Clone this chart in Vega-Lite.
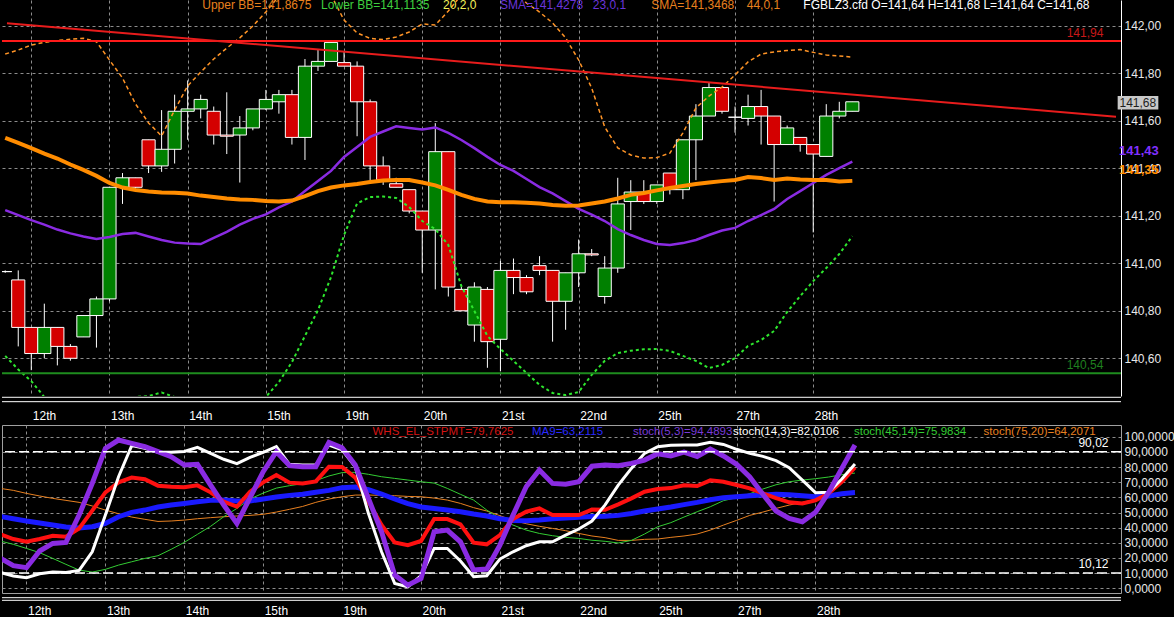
{
  "$schema": "https://vega.github.io/schema/vega-lite/v6.json",
  "background": "#000000",
  "padding": 0,
  "spacing": 29,
  "bounds": "flush",
  "resolve": {"scale": {"color": "independent"}},
  "datasets": {
    "bars": [
      {"k": -2, "o": 140.965, "h": 140.97, "l": 140.96, "c": 140.965, "ub": 141.881, "lb": 140.610, "s23": 141.224, "s44": 141.528, "whs": 35.6, "ma9": 47.4, "s53": 20.0, "s143": 10.5, "s4514": 31.2, "s7520": 65.9},
      {"k": -1, "o": 140.93, "h": 140.97, "l": 140.65, "c": 140.73, "ub": 141.898, "lb": 140.553, "s23": 141.203, "s44": 141.507, "whs": 32.5, "ma9": 45.9, "s53": 14.9, "s143": 8.1, "s4514": 29.0, "s7520": 64.6},
      {"k": 0, "o": 140.73, "h": 140.73, "l": 140.55, "c": 140.62, "ub": 141.919, "lb": 140.504, "s23": 141.182, "s44": 141.485, "whs": 30.7, "ma9": 44.4, "s53": 13.6, "s143": 7.0, "s4514": 26.3, "s7520": 62.6},
      {"k": 1, "o": 140.62, "h": 140.83, "l": 140.60, "c": 140.73, "ub": 141.930, "lb": 140.437, "s23": 141.163, "s44": 141.462, "whs": 32.5, "ma9": 43.1, "s53": 24.6, "s143": 9.6, "s4514": 23.5, "s7520": 60.9},
      {"k": 2, "o": 140.73, "h": 140.73, "l": 140.57, "c": 140.65, "ub": 141.938, "lb": 140.403, "s23": 141.142, "s44": 141.441, "whs": 34.7, "ma9": 41.7, "s53": 29.6, "s143": 10.7, "s4514": 19.7, "s7520": 59.3},
      {"k": 3, "o": 140.65, "h": 140.66, "l": 140.59, "c": 140.60, "ub": 141.943, "lb": 140.382, "s23": 141.126, "s44": 141.416, "whs": 34.0, "ma9": 40.4, "s53": 30.3, "s143": 10.5, "s4514": 15.8, "s7520": 58.0},
      {"k": 4, "o": 140.69, "h": 140.78, "l": 140.69, "c": 140.78, "ub": 141.947, "lb": 140.374, "s23": 141.113, "s44": 141.393, "whs": 39.5, "ma9": 39.8, "s53": 48.3, "s143": 11.8, "s4514": 12.0, "s7520": 56.7},
      {"k": 5, "o": 140.78, "h": 140.86, "l": 140.645, "c": 140.85, "ub": 141.933, "lb": 140.391, "s23": 141.102, "s44": 141.368, "whs": 51.2, "ma9": 40.6, "s53": 69.2, "s143": 24.1, "s4514": 10.7, "s7520": 54.3},
      {"k": 6, "o": 140.85, "h": 141.32, "l": 140.84, "c": 141.32, "ub": 141.856, "lb": 140.403, "s23": 141.111, "s44": 141.338, "whs": 63.3, "ma9": 42.8, "s53": 92.3, "s143": 48.3, "s4514": 12.5, "s7520": 51.6},
      {"k": 7, "o": 141.32, "h": 141.38, "l": 141.25, "c": 141.36, "ub": 141.780, "lb": 140.424, "s23": 141.123, "s44": 141.319, "whs": 69.9, "ma9": 47.2, "s53": 97.8, "s143": 73.6, "s4514": 15.3, "s7520": 49.2},
      {"k": 8, "o": 141.36, "h": 141.36, "l": 141.30, "c": 141.32, "ub": 141.671, "lb": 140.437, "s23": 141.128, "s44": 141.309, "whs": 73.0, "ma9": 50.1, "s53": 95.6, "s143": 94.1, "s4514": 17.5, "s7520": 47.0},
      {"k": 9, "o": 141.52, "h": 141.52, "l": 141.38, "c": 141.41, "ub": 141.591, "lb": 140.441, "s23": 141.113, "s44": 141.302, "whs": 71.9, "ma9": 51.6, "s53": 93.4, "s143": 92.3, "s4514": 19.7, "s7520": 45.5},
      {"k": 10, "o": 141.41, "h": 141.645, "l": 141.385, "c": 141.48, "ub": 141.536, "lb": 140.456, "s23": 141.098, "s44": 141.298, "whs": 67.7, "ma9": 53.6, "s53": 90.1, "s143": 89.7, "s4514": 21.5, "s7520": 44.1},
      {"k": 11, "o": 141.48, "h": 141.71, "l": 141.42, "c": 141.64, "ub": 141.645, "lb": 140.437, "s23": 141.087, "s44": 141.297, "whs": 67.0, "ma9": 54.9, "s53": 86.8, "s143": 89.7, "s4514": 25.7, "s7520": 44.4},
      {"k": 12, "o": 141.64, "h": 141.77, "l": 141.52, "c": 141.65, "ub": 141.747, "lb": 140.416, "s23": 141.083, "s44": 141.294, "whs": 66.6, "ma9": 56.0, "s53": 81.3, "s143": 90.3, "s4514": 30.3, "s7520": 45.0},
      {"k": 13, "o": 141.65, "h": 141.71, "l": 141.61, "c": 141.69, "ub": 141.805, "lb": 140.391, "s23": 141.081, "s44": 141.285, "whs": 67.9, "ma9": 57.1, "s53": 81.8, "s143": 93.0, "s4514": 35.6, "s7520": 45.9},
      {"k": 14, "o": 141.64, "h": 141.66, "l": 141.50, "c": 141.54, "ub": 141.860, "lb": 140.374, "s23": 141.107, "s44": 141.279, "whs": 63.3, "ma9": 58.0, "s53": 68.1, "s143": 89.0, "s4514": 40.9, "s7520": 46.6},
      {"k": 15, "o": 141.54, "h": 141.72, "l": 141.46, "c": 141.535, "ub": 141.906, "lb": 140.365, "s23": 141.132, "s44": 141.273, "whs": 57.1, "ma9": 58.2, "s53": 54.9, "s143": 85.1, "s4514": 47.2, "s7520": 47.2},
      {"k": 16, "o": 141.54, "h": 141.62, "l": 141.34, "c": 141.57, "ub": 141.949, "lb": 140.382, "s23": 141.163, "s44": 141.269, "whs": 53.8, "ma9": 57.6, "s53": 42.8, "s143": 82.2, "s4514": 52.7, "s7520": 47.7},
      {"k": 17, "o": 141.57, "h": 141.65, "l": 141.56, "c": 141.65, "ub": 141.999, "lb": 140.412, "s23": 141.187, "s44": 141.267, "whs": 63.7, "ma9": 57.6, "s53": 59.8, "s143": 86.4, "s4514": 58.9, "s7520": 48.1},
      {"k": 18, "o": 141.65, "h": 141.73, "l": 141.645, "c": 141.69, "ub": 142.058, "lb": 140.437, "s23": 141.206, "s44": 141.262, "whs": 69.9, "ma9": 58.9, "s53": 76.9, "s143": 89.7, "s4514": 62.8, "s7520": 48.8},
      {"k": 19, "o": 141.68, "h": 141.73, "l": 141.63, "c": 141.71, "ub": 142.125, "lb": 140.500, "s23": 141.235, "s44": 141.260, "whs": 74.7, "ma9": 60.2, "s53": 90.1, "s143": 93.4, "s4514": 66.1, "s7520": 50.3},
      {"k": 20, "o": 141.71, "h": 141.73, "l": 141.50, "c": 141.53, "ub": 142.184, "lb": 140.584, "s23": 141.260, "s44": 141.264, "whs": 69.7, "ma9": 61.3, "s53": 80.9, "s143": 81.8, "s4514": 67.7, "s7520": 52.1},
      {"k": 21, "o": 141.53, "h": 141.86, "l": 141.435, "c": 141.83, "ub": 142.214, "lb": 140.694, "s23": 141.304, "s44": 141.283, "whs": 69.2, "ma9": 62.0, "s53": 80.2, "s143": 81.3, "s4514": 69.0, "s7520": 54.0},
      {"k": 22, "o": 141.83, "h": 141.90, "l": 141.81, "c": 141.85, "ub": 142.201, "lb": 140.803, "s23": 141.346, "s44": 141.304, "whs": 70.5, "ma9": 63.3, "s53": 80.2, "s143": 81.3, "s4514": 71.0, "s7520": 56.7},
      {"k": 23, "o": 141.85, "h": 141.93, "l": 141.85, "c": 141.93, "ub": 142.130, "lb": 140.942, "s23": 141.389, "s44": 141.319, "whs": 80.2, "ma9": 64.6, "s53": 96.3, "s143": 94.5, "s4514": 74.1, "s7520": 58.9},
      {"k": 24, "o": 141.845, "h": 141.89, "l": 141.83, "c": 141.83, "ub": 142.024, "lb": 141.119, "s23": 141.448, "s44": 141.328, "whs": 80.0, "ma9": 66.4, "s53": 92.7, "s143": 91.4, "s4514": 76.3, "s7520": 60.4},
      {"k": 25, "o": 141.83, "h": 141.85, "l": 141.535, "c": 141.68, "ub": 141.970, "lb": 141.252, "s23": 141.490, "s44": 141.334, "whs": 73.0, "ma9": 66.8, "s53": 81.3, "s143": 80.2, "s4514": 76.5, "s7520": 61.5},
      {"k": 26, "o": 141.68, "h": 141.69, "l": 141.35, "c": 141.41, "ub": 141.947, "lb": 141.279, "s23": 141.532, "s44": 141.342, "whs": 57.1, "ma9": 65.0, "s53": 59.3, "s143": 49.4, "s4514": 75.2, "s7520": 61.5},
      {"k": 27, "o": 141.41, "h": 141.45, "l": 141.33, "c": 141.35, "ub": 141.942, "lb": 141.281, "s23": 141.555, "s44": 141.349, "whs": 41.7, "ma9": 62.2, "s53": 37.3, "s143": 24.1, "s4514": 73.6, "s7520": 61.3},
      {"k": 28, "o": 141.335, "h": 141.36, "l": 141.32, "c": 141.32, "ub": 141.953, "lb": 141.275, "s23": 141.577, "s44": 141.351, "whs": 30.3, "ma9": 58.9, "s53": 8.7, "s143": 3.2, "s4514": 72.5, "s7520": 61.1},
      {"k": 29, "o": 141.31, "h": 141.31, "l": 141.21, "c": 141.22, "ub": 141.974, "lb": 141.237, "s23": 141.570, "s44": 141.351, "whs": 28.5, "ma9": 55.8, "s53": 2.1, "s143": 1.0, "s4514": 71.4, "s7520": 60.6},
      {"k": 30, "o": 141.22, "h": 141.22, "l": 140.96, "c": 141.14, "ub": 142.008, "lb": 141.178, "s23": 141.563, "s44": 141.340, "whs": 31.2, "ma9": 53.6, "s53": 6.5, "s143": 8.3, "s4514": 70.3, "s7520": 60.4},
      {"k": 31, "o": 141.14, "h": 141.59, "l": 140.89, "c": 141.47, "ub": 142.003, "lb": 141.144, "s23": 141.572, "s44": 141.328, "whs": 45.7, "ma9": 52.7, "s53": 37.3, "s143": 26.3, "s4514": 69.4, "s7520": 59.5},
      {"k": 32, "o": 141.47, "h": 141.47, "l": 140.86, "c": 140.90, "ub": 142.062, "lb": 141.077, "s23": 141.549, "s44": 141.309, "whs": 45.7, "ma9": 51.6, "s53": 38.4, "s143": 26.3, "s4514": 65.9, "s7520": 58.2},
      {"k": 33, "o": 140.89, "h": 140.90, "l": 140.80, "c": 140.80, "ub": 142.130, "lb": 140.904, "s23": 141.519, "s44": 141.288, "whs": 42.2, "ma9": 50.5, "s53": 30.7, "s143": 18.0, "s4514": 62.0, "s7520": 56.0},
      {"k": 34, "o": 140.74, "h": 140.92, "l": 140.67, "c": 140.90, "ub": 142.172, "lb": 140.799, "s23": 141.485, "s44": 141.271, "whs": 30.1, "ma9": 49.0, "s53": 12.0, "s143": 7.6, "s4514": 58.2, "s7520": 53.2},
      {"k": 35, "o": 140.89, "h": 140.90, "l": 140.56, "c": 140.67, "ub": 142.193, "lb": 140.694, "s23": 141.448, "s44": 141.260, "whs": 29.0, "ma9": 47.7, "s53": 12.7, "s143": 8.3, "s4514": 51.6, "s7520": 51.0},
      {"k": 36, "o": 140.68, "h": 141.01, "l": 140.545, "c": 140.97, "ub": 142.184, "lb": 140.639, "s23": 141.414, "s44": 141.257, "whs": 35.1, "ma9": 45.9, "s53": 28.5, "s143": 19.3, "s4514": 46.1, "s7520": 47.9},
      {"k": 37, "o": 140.97, "h": 141.02, "l": 140.87, "c": 140.94, "ub": 142.142, "lb": 140.589, "s23": 141.389, "s44": 141.257, "whs": 45.7, "ma9": 44.8, "s53": 48.3, "s143": 24.1, "s4514": 41.7, "s7520": 44.8},
      {"k": 38, "o": 140.94, "h": 140.95, "l": 140.87, "c": 140.88, "ub": 142.096, "lb": 140.538, "s23": 141.355, "s44": 141.255, "whs": 50.5, "ma9": 44.6, "s53": 67.0, "s143": 28.1, "s4514": 38.4, "s7520": 42.6},
      {"k": 39, "o": 140.99, "h": 141.03, "l": 140.95, "c": 140.97, "ub": 142.058, "lb": 140.488, "s23": 141.321, "s44": 141.252, "whs": 52.7, "ma9": 45.0, "s53": 78.0, "s143": 30.7, "s4514": 36.2, "s7520": 40.9},
      {"k": 40, "o": 140.97, "h": 140.97, "l": 140.67, "c": 140.84, "ub": 142.012, "lb": 140.454, "s23": 141.294, "s44": 141.245, "whs": 48.3, "ma9": 45.9, "s53": 69.2, "s143": 30.7, "s4514": 34.7, "s7520": 39.5},
      {"k": 41, "o": 140.84, "h": 140.96, "l": 140.72, "c": 140.96, "ub": 141.949, "lb": 140.445, "s23": 141.262, "s44": 141.242, "whs": 48.3, "ma9": 46.4, "s53": 68.6, "s143": 35.1, "s4514": 33.6, "s7520": 38.0},
      {"k": 42, "o": 140.96, "h": 141.10, "l": 140.90, "c": 141.04, "ub": 141.856, "lb": 140.458, "s23": 141.229, "s44": 141.243, "whs": 48.3, "ma9": 46.8, "s53": 70.3, "s143": 39.1, "s4514": 32.9, "s7520": 36.2},
      {"k": 43, "o": 141.04, "h": 141.06, "l": 141.03, "c": 141.035, "ub": 141.738, "lb": 140.530, "s23": 141.205, "s44": 141.252, "whs": 51.9, "ma9": 47.3, "s53": 80.5, "s143": 44.4, "s4514": 31.7, "s7520": 34.5},
      {"k": 44, "o": 140.86, "h": 141.03, "l": 140.83, "c": 140.98, "ub": 141.574, "lb": 140.589, "s23": 141.178, "s44": 141.260, "whs": 51.8, "ma9": 47.5, "s53": 81.3, "s143": 55.0, "s4514": 31.0, "s7520": 33.4},
      {"k": 45, "o": 140.98, "h": 141.36, "l": 140.96, "c": 141.25, "ub": 141.486, "lb": 140.622, "s23": 141.144, "s44": 141.273, "whs": 55.4, "ma9": 48.1, "s53": 80.9, "s143": 68.1, "s4514": 29.9, "s7520": 31.6},
      {"k": 46, "o": 141.26, "h": 141.35, "l": 141.14, "c": 141.30, "ub": 141.456, "lb": 140.632, "s23": 141.119, "s44": 141.288, "whs": 59.3, "ma9": 49.4, "s53": 82.4, "s143": 79.1, "s4514": 31.6, "s7520": 31.6},
      {"k": 47, "o": 141.30, "h": 141.35, "l": 141.25, "c": 141.26, "ub": 141.443, "lb": 140.638, "s23": 141.098, "s44": 141.296, "whs": 63.7, "ma9": 51.0, "s53": 84.6, "s143": 89.0, "s4514": 35.8, "s7520": 32.3},
      {"k": 48, "o": 141.26, "h": 141.33, "l": 141.25, "c": 141.33, "ub": 141.445, "lb": 140.639, "s23": 141.081, "s44": 141.307, "whs": 65.5, "ma9": 52.3, "s53": 88.8, "s143": 93.4, "s4514": 40.6, "s7520": 32.5},
      {"k": 49, "o": 141.38, "h": 141.38, "l": 141.29, "c": 141.31, "ub": 141.464, "lb": 140.631, "s23": 141.077, "s44": 141.317, "whs": 66.1, "ma9": 53.6, "s53": 87.3, "s143": 94.3, "s4514": 43.3, "s7520": 33.6},
      {"k": 50, "o": 141.31, "h": 141.52, "l": 141.27, "c": 141.52, "ub": 141.549, "lb": 140.610, "s23": 141.085, "s44": 141.325, "whs": 67.9, "ma9": 55.2, "s53": 89.9, "s143": 94.5, "s4514": 47.0, "s7520": 34.5},
      {"k": 51, "o": 141.52, "h": 141.67, "l": 141.35, "c": 141.62, "ub": 141.654, "lb": 140.589, "s23": 141.098, "s44": 141.334, "whs": 67.5, "ma9": 56.7, "s53": 87.0, "s143": 94.5, "s4514": 50.5, "s7520": 35.8},
      {"k": 52, "o": 141.62, "h": 141.76, "l": 141.62, "c": 141.74, "ub": 141.704, "lb": 140.559, "s23": 141.119, "s44": 141.340, "whs": 71.2, "ma9": 58.4, "s53": 91.9, "s143": 96.3, "s4514": 53.8, "s7520": 38.4},
      {"k": 53, "o": 141.74, "h": 141.74, "l": 141.63, "c": 141.64, "ub": 141.742, "lb": 140.572, "s23": 141.138, "s44": 141.346, "whs": 70.3, "ma9": 59.8, "s53": 87.3, "s143": 94.9, "s4514": 57.8, "s7520": 41.7},
      {"k": 54, "o": 141.615, "h": 141.66, "l": 141.55, "c": 141.615, "ub": 141.793, "lb": 140.601, "s23": 141.149, "s44": 141.351, "whs": 68.1, "ma9": 60.4, "s53": 81.8, "s143": 91.7, "s4514": 59.8, "s7520": 44.8},
      {"k": 55, "o": 141.61, "h": 141.71, "l": 141.58, "c": 141.66, "ub": 141.848, "lb": 140.652, "s23": 141.178, "s44": 141.363, "whs": 65.9, "ma9": 61.1, "s53": 73.4, "s143": 89.0, "s4514": 62.4, "s7520": 48.1},
      {"k": 56, "o": 141.66, "h": 141.73, "l": 141.50, "c": 141.62, "ub": 141.881, "lb": 140.677, "s23": 141.203, "s44": 141.359, "whs": 62.6, "ma9": 61.5, "s53": 62.0, "s143": 87.0, "s4514": 65.5, "s7520": 50.3},
      {"k": 57, "o": 141.62, "h": 141.62, "l": 141.26, "c": 141.50, "ub": 141.890, "lb": 140.715, "s23": 141.229, "s44": 141.351, "whs": 59.5, "ma9": 62.0, "s53": 51.0, "s143": 84.2, "s4514": 68.3, "s7520": 52.7},
      {"k": 58, "o": 141.50, "h": 141.58, "l": 141.50, "c": 141.57, "ub": 141.896, "lb": 140.795, "s23": 141.271, "s44": 141.357, "whs": 56.7, "ma9": 61.7, "s53": 46.1, "s143": 79.6, "s4514": 70.3, "s7520": 54.9},
      {"k": 59, "o": 141.53, "h": 141.53, "l": 141.47, "c": 141.50, "ub": 141.900, "lb": 140.862, "s23": 141.304, "s44": 141.353, "whs": 56.0, "ma9": 61.1, "s53": 43.9, "s143": 71.4, "s4514": 71.4, "s7520": 56.7},
      {"k": 60, "o": 141.50, "h": 141.50, "l": 141.13, "c": 141.46, "ub": 141.888, "lb": 140.925, "s23": 141.338, "s44": 141.351, "whs": 58.0, "ma9": 60.4, "s53": 50.1, "s143": 63.1, "s4514": 72.3, "s7520": 58.7},
      {"k": 61, "o": 141.45, "h": 141.67, "l": 141.45, "c": 141.62, "ub": 141.877, "lb": 140.980, "s23": 141.372, "s44": 141.351, "whs": 62.6, "ma9": 60.9, "s53": 63.3, "s143": 63.3, "s4514": 73.4, "s7520": 60.6},
      {"k": 62, "o": 141.62, "h": 141.68, "l": 141.61, "c": 141.64, "ub": 141.873, "lb": 141.039, "s23": 141.401, "s44": 141.344, "whs": 70.3, "ma9": 62.4, "s53": 79.1, "s143": 72.1, "s4514": 74.9, "s7520": 62.0},
      {"k": 63, "o": 141.64, "h": 141.68, "l": 141.64, "c": 141.68, "ub": 141.868, "lb": 141.114, "s23": 141.428, "s44": 141.347, "whs": 79.8, "ma9": 63.2, "s53": 94.5, "s143": 82.0, "s4514": 76.0, "s7520": 64.2}
    ],
    "trend": [
      {"k": -1.8631, "price": 142.0105},
      {"k": 83.232, "price": 141.617}
    ],
    "levels": [
      {"key": "res", "price": 141.936, "label": "141,94"},
      {"key": "sup", "price": 140.537, "label": "140,54"}
    ],
    "header": [
      {"at": 13.12, "key": "ubb", "text": "Upper BB=141,8675"},
      {"at": 22.24, "key": "lbb", "text": "Lower BB=141,1135"},
      {"at": 31.6, "key": "par", "text": "20,2,0"},
      {"at": 35.97, "key": "sma23", "text": "SMA=141,4278"},
      {"at": 43.08, "key": "sma23", "text": "23,0,1"},
      {"at": 47.57, "key": "sma44", "text": "SMA=141,3468"},
      {"at": 54.9, "key": "sma44", "text": "44,0,1"},
      {"at": 59.24, "key": "sym", "text": "FGBLZ3.cfd O=141,64 H=141,68 L=141,64 C=141,68"}
    ],
    "badges": [
      {"key": "last", "price": 141.68, "label": "141,68"},
      {"key": "b23", "price": 141.43, "label": "141,43"},
      {"key": "b44", "price": 141.35, "label": "141,35"}
    ],
    "legend": [
      {"at": 26.31, "key": "whs", "text": "WHS_EL_STPMT=79,7625"},
      {"at": 38.44, "key": "ma9", "text": "MA9=63,2115"},
      {"at": 46.12, "key": "s53", "text": "stoch(5,3)=94,4893"},
      {"at": 53.73, "key": "s143", "text": "stoch(14,3)=82,0106"},
      {"at": 62.93, "key": "s4514", "text": "stoch(45,14)=75,9834"},
      {"at": 72.78, "key": "s7520", "text": "stoch(75,20)=64,2071"}
    ],
    "bands": [
      {"key": "band", "v": 90.02, "label": "90,02"},
      {"key": "band", "v": 10.12, "label": "10,12"}
    ]
  },
  "vconcat": [
    {
      "width": 1119,
      "height": 396,
      "view": {"stroke": null},
      "layer": [
        {
          "data": {"name": "bars"},
          "mark": {"type": "rule", "color": "#ffffff", "strokeWidth": 1, "clip": true},
          "encoding": {
            "x": {
              "field": "k",
              "type": "quantitative",
              "scale": {"domain": [-1.8631, 83.232], "nice": false, "zero": false},
              "axis": {
                "title": null,
                "values": [0, 6, 12, 18, 24, 30, 36, 42, 48, 54, 60],
                "tickCount": 11,
                "labelExpr": "['12th','13th','14th','15th','19th','20th','21st','22nd','25th','27th','28th'][round(datum.value / 6)]",
                "grid": true,
                "domain": false,
                "labelAlign": "left",
                "labelBaseline": "top",
                "labelOffset": 1,
                "labelPadding": 14,
                "labelFlush": false,
                "labelOverlap": false,
                "labelBound": false
              }
            },
            "y": {
              "field": "l",
              "type": "quantitative",
              "scale": {"domain": [140.4412, 142.1086], "nice": false, "zero": false},
              "axis": {
                "title": null,
                "orient": "right",
                "values": [140.6, 140.8, 141.0, 141.2, 141.4, 141.6, 141.8, 142.0],
                "tickCount": 8,
                "labelExpr": "replace(format(datum.value, '.2f'), '.', ',')",
                "grid": true,
                "domain": true,
                "domainColor": "#ffffff",
                "domainWidth": 1,
                "labelAlign": "left",
                "labelBaseline": "middle",
                "labelPadding": 3,
                "labelOverlap": false,
                "labelFlush": false,
                "labelColor": "#e8e8e8"
              }
            },
            "y2": {"field": "h"}
          }
        },
        {
          "data": {"name": "bars"},
          "mark": {"type": "bar", "width": 13.15, "stroke": "#ffffff", "strokeWidth": 1, "clip": true},
          "encoding": {
            "x": {"field": "k", "type": "quantitative"},
            "y": {"field": "o", "type": "quantitative"},
            "y2": {"field": "c"},
            "fill": {
              "condition": {"test": "datum.c >= datum.o", "value": "#008000"},
              "value": "#d40000"
            }
          }
        },
        {
          "data": {"name": "bars"},
          "mark": {"type": "line", "color": "#ff9426", "strokeWidth": 1.5, "strokeDash": [4, 3], "clip": true},
          "encoding": {
            "x": {"field": "k", "type": "quantitative"},
            "y": {"field": "ub", "type": "quantitative"}
          }
        },
        {
          "data": {"name": "bars"},
          "mark": {"type": "line", "color": "#2ee62e", "strokeWidth": 2, "strokeDash": [3, 3], "clip": true},
          "encoding": {
            "x": {"field": "k", "type": "quantitative"},
            "y": {"field": "lb", "type": "quantitative"}
          }
        },
        {
          "data": {"name": "bars"},
          "mark": {"type": "line", "color": "#8a2be2", "strokeWidth": 2.5, "clip": true},
          "encoding": {
            "x": {"field": "k", "type": "quantitative"},
            "y": {"field": "s23", "type": "quantitative"}
          }
        },
        {
          "data": {"name": "bars"},
          "mark": {"type": "line", "color": "#ff8c00", "strokeWidth": 4, "clip": true},
          "encoding": {
            "x": {"field": "k", "type": "quantitative"},
            "y": {"field": "s44", "type": "quantitative"}
          }
        },
        {
          "data": {"name": "levels"},
          "transform": [{"filter": "datum.key == 'res'"}],
          "mark": {"type": "rule", "color": "#ff1a1a", "strokeWidth": 2},
          "encoding": {
            "y": {"field": "price", "type": "quantitative"}
          }
        },
        {
          "data": {"name": "levels"},
          "transform": [{"filter": "datum.key == 'sup'"}],
          "mark": {"type": "rule", "color": "#1e8c1e", "strokeWidth": 2},
          "encoding": {
            "y": {"field": "price", "type": "quantitative"}
          }
        },
        {
          "data": {"name": "trend"},
          "mark": {"type": "line", "color": "#e81c1c", "strokeWidth": 2, "clip": true},
          "encoding": {
            "x": {"field": "k", "type": "quantitative"},
            "y": {"field": "price", "type": "quantitative"}
          }
        },
        {
          "data": {"name": "levels"},
          "mark": {"type": "text", "align": "right", "baseline": "middle", "dy": -8, "fontSize": 12},
          "encoding": {
            "x": {"datum": 82.26},
            "y": {"field": "price", "type": "quantitative"},
            "text": {"field": "label"},
            "color": {
              "field": "key",
              "type": "nominal",
              "scale": {
                "domain": ["ubb", "lbb", "par", "sma23", "sma44", "sym", "res", "sup", "last", "b23", "b44"],
                "range": ["#e8801e", "#3fcf3f", "#f2f25a", "#6a35d9", "#e8801e", "#ffffff", "#c81818", "#1f7f1f", "#1e1e1e", "#8030ff", "#ff8c00"]
              },
              "legend": null
            }
          }
        },
        {
          "data": {"name": "header"},
          "mark": {"type": "text", "align": "left", "baseline": "alphabetic", "fontSize": 12, "clip": true},
          "encoding": {
            "x": {"field": "at", "type": "quantitative"},
            "y": {"datum": 142.0686},
            "text": {"field": "text"},
            "color": {"field": "key", "type": "nominal", "legend": null}
          }
        },
        {
          "data": {"name": "badges"},
          "transform": [{"filter": "datum.key == 'last'"}],
          "mark": {"type": "rect", "color": "#c8c8c8", "clip": false},
          "encoding": {
            "x": {"datum": 83.36},
            "x2": {"datum": 86.48},
            "y": {"datum": 141.7044},
            "y2": {"datum": 141.6475}
          }
        },
        {
          "data": {"name": "badges"},
          "transform": [{"filter": "datum.key == 'last'"}],
          "mark": {"type": "text", "align": "left", "baseline": "middle", "dx": 3.5, "dy": 1, "fontSize": 12, "clip": false},
          "encoding": {
            "x": {"datum": 83.232},
            "y": {"field": "price", "type": "quantitative"},
            "text": {"field": "label"},
            "color": {"field": "key", "type": "nominal", "legend": null}
          }
        },
        {
          "data": {"name": "badges"},
          "transform": [{"filter": "datum.key != 'last'"}],
          "mark": {"type": "text", "align": "left", "baseline": "bottom", "dx": 3, "dy": -3, "fontSize": 13, "fontWeight": "bold", "clip": false},
          "encoding": {
            "x": {"datum": 83.232},
            "y": {"field": "price", "type": "quantitative"},
            "text": {"field": "label"},
            "color": {"field": "key", "type": "nominal", "legend": null}
          }
        },
        {
          "data": {"name": "levels"},
          "transform": [{"filter": "datum.key == 'res'"}],
          "mark": {"type": "rule", "color": "#ffffff", "strokeWidth": 1, "clip": false},
          "encoding": {"y": {"datum": 140.4358}}
        },
        {
          "data": {"name": "levels"},
          "transform": [{"filter": "datum.key == 'res'"}],
          "mark": {"type": "rule", "color": "#ffffff", "strokeWidth": 1, "clip": false},
          "encoding": {"y": {"datum": 140.4173}}
        }
      ]
    },
    {
      "width": 1119,
      "height": 168,
      "view": {"stroke": "#a0a0a0", "strokeWidth": 1},
      "layer": [
        {
          "data": {"name": "bars"},
          "mark": {"type": "line", "color": "#e88020", "strokeWidth": 1, "clip": true},
          "encoding": {
            "x": {
              "field": "k",
              "type": "quantitative",
              "scale": {"domain": [-1.8631, 83.232], "nice": false, "zero": false},
              "axis": {
                "title": null,
                "values": [0, 6, 12, 18, 24, 30, 36, 42, 48, 54, 60],
                "tickCount": 11,
                "labelExpr": "['12th','13th','14th','15th','19th','20th','21st','22nd','25th','27th','28th'][round(datum.value / 6)]",
                "grid": true,
                "domain": false,
                "labelAlign": "left",
                "labelBaseline": "top",
                "labelOffset": 1,
                "labelPadding": 12,
                "labelFlush": false,
                "labelOverlap": false,
                "labelBound": false
              }
            },
            "y": {
              "field": "s7520",
              "type": "quantitative",
              "scale": {"domain": [-3.1, 107.72], "nice": false, "zero": false},
              "axis": {
                "title": null,
                "orient": "right",
                "values": [0, 10, 20, 30, 40, 50, 60, 70, 80, 90, 100],
                "tickCount": 11,
                "labelExpr": "replace(format(datum.value, '.4f'), '.', ',')",
                "grid": true,
                "domain": false,
                "labelAlign": "left",
                "labelBaseline": "middle",
                "labelPadding": 3,
                "labelOverlap": false,
                "labelFlush": false,
                "labelColor": "#e8e8e8"
              }
            }
          }
        },
        {
          "data": {"name": "bars"},
          "mark": {"type": "line", "color": "#33cc33", "strokeWidth": 1, "clip": true},
          "encoding": {
            "x": {"field": "k", "type": "quantitative"},
            "y": {"field": "s4514", "type": "quantitative"}
          }
        },
        {
          "data": {"name": "bars"},
          "mark": {"type": "line", "color": "#1a1aff", "strokeWidth": 5, "clip": true},
          "encoding": {
            "x": {"field": "k", "type": "quantitative"},
            "y": {"field": "ma9", "type": "quantitative"}
          }
        },
        {
          "data": {"name": "bars"},
          "mark": {"type": "line", "color": "#ff1010", "strokeWidth": 4, "clip": true},
          "encoding": {
            "x": {"field": "k", "type": "quantitative"},
            "y": {"field": "whs", "type": "quantitative"}
          }
        },
        {
          "data": {"name": "bars"},
          "mark": {"type": "line", "color": "#ffffff", "strokeWidth": 3, "clip": true},
          "encoding": {
            "x": {"field": "k", "type": "quantitative"},
            "y": {"field": "s143", "type": "quantitative"}
          }
        },
        {
          "data": {"name": "bars"},
          "mark": {"type": "line", "color": "#8a2be2", "strokeWidth": 5, "clip": true},
          "encoding": {
            "x": {"field": "k", "type": "quantitative"},
            "y": {"field": "s53", "type": "quantitative"}
          }
        },
        {
          "data": {"name": "bands"},
          "mark": {"type": "rule", "color": "#ffffff", "strokeWidth": 1.5, "strokeDash": [10, 4]},
          "encoding": {
            "y": {"field": "v", "type": "quantitative"}
          }
        },
        {
          "data": {"name": "bands"},
          "mark": {"type": "text", "align": "right", "baseline": "bottom", "dy": -2, "fontSize": 12},
          "encoding": {
            "x": {"datum": 82.28},
            "y": {"field": "v", "type": "quantitative"},
            "text": {"field": "label"},
            "color": {
              "field": "key",
              "type": "nominal",
              "scale": {
                "domain": ["whs", "ma9", "s53", "s143", "s4514", "s7520", "band"],
                "range": ["#d41414", "#2a2aff", "#7a3ad8", "#ffffff", "#33cc33", "#e88020", "#ffffff"]
              },
              "legend": null
            }
          }
        },
        {
          "data": {"name": "legend"},
          "mark": {"type": "text", "align": "left", "baseline": "middle", "fontSize": 11.5, "clip": true},
          "encoding": {
            "x": {"field": "at", "type": "quantitative"},
            "y": {"datum": 102.9},
            "text": {"field": "text"},
            "color": {"field": "key", "type": "nominal", "legend": null}
          }
        },
        {
          "data": {"name": "bands"},
          "transform": [{"filter": "datum.v > 50"}],
          "mark": {"type": "rule", "color": "#ffffff", "strokeWidth": 1, "clip": false},
          "encoding": {"y": {"datum": -6.2}}
        },
        {
          "data": {"name": "bands"},
          "transform": [{"filter": "datum.v > 50"}],
          "mark": {"type": "rule", "color": "#ffffff", "strokeWidth": 1, "clip": false},
          "encoding": {"y": {"datum": -7.92}}
        }
      ]
    }
  ],
  "config": {
    "view": {"stroke": null},
    "font": "Liberation Sans",
    "axis": {
      "labelFont": "Liberation Sans",
      "labelFontSize": 12,
      "labelColor": "#ffffff",
      "labelOverlap": false,
      "ticks": false,
      "tickSize": 0,
      "gridColor": "#8c8c8c",
      "gridDash": [3, 3],
      "gridWidth": 1
    },
    "text": {"font": "Liberation Sans"}
  }
}
